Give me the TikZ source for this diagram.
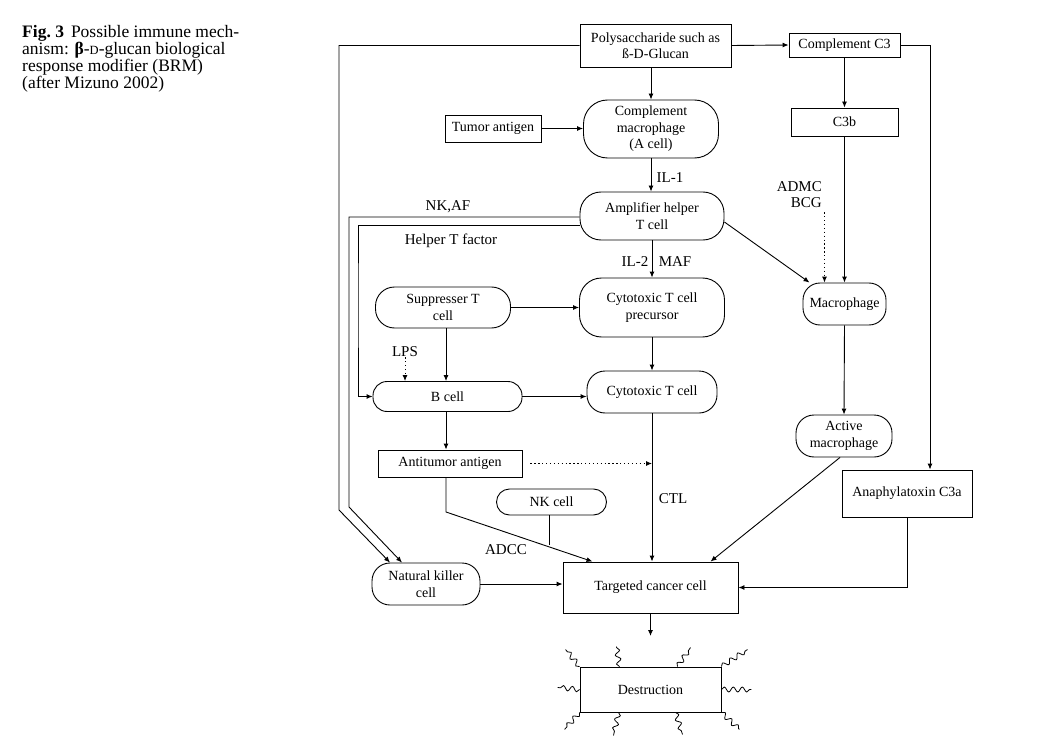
\documentclass[tikz,border=0pt]{standalone}
\usepackage{fontspec}
\setmainfont{Liberation Serif}
\usetikzlibrary{arrows.meta,decorations.pathmorphing}
\begin{document}
\begin{tikzpicture}[x=1pt,y=-1pt,
  font=\fontsize{14}{16.5}\selectfont,
  every node/.style={align=center, inner sep=0pt},
  box/.style={draw, line width=0.9pt, rectangle},
  cell/.style={draw, line width=0.9pt, rounded corners=#1},
  cell/.default=16pt,
  lab/.style={font=\fontsize{15}{17}\selectfont},
  conn/.style={line width=0.9pt, -{Latex[length=6pt,width=5pt]}},
  plainline/.style={line width=0.9pt},
  dots/.style={conn, dash pattern=on 1.3pt off 2.6pt},
  wig/.style={line width=0.8pt, decorate, decoration={snake, amplitude=2.5pt, segment length=9pt}},
]
\useasboundingbox (0,0) rectangle (1041,746);

% caption
\node[anchor=north west, align=left, font=\fontsize{17.5}{15.6}\selectfont] (cap) at (22,25)
  {{\bfseries Fig.~3}\hspace{0.4em}Possible immune mech-\\anism: {\bfseries β}-{\fontsize{12.5}{12}\selectfont D}-glucan biological\\response modifier (BRM)\\(after Mizuno 2002)};

% nodes
\node[box, minimum width=151pt, minimum height=43pt] (poly) at (655.5,45.5) {Polysaccharide such as\\ß-D-Glucan};
\node[box, minimum width=111pt, minimum height=24pt] (c3) at (844.5,45) {Complement C3};
\node[box, minimum width=96pt, minimum height=27pt] (tum) at (493,128.5) {Tumor antigen};
\node[cell=24pt, minimum width=135pt, minimum height=58pt] (cm) at (651,129) {Complement\\macrophage\\(A cell)};
\node[box, minimum width=107pt, minimum height=28pt] (c3b) at (844.5,122) {C3b};
\node[cell=21pt, minimum width=144pt, minimum height=48pt] (amp) at (652,216) {Amplifier helper\\T cell};
\node[cell=19pt, minimum width=135pt, minimum height=41pt] (sup) at (443,307.5) {Suppresser T\\cell};
\node[cell=22pt, minimum width=145pt, minimum height=59pt] (prec) at (652,307.5) {Cytotoxic T cell\\precursor};
\node[cell=17pt, minimum width=83pt, minimum height=42pt] (mac) at (844.5,304) {Macrophage};
\node[cell=14pt, minimum width=149pt, minimum height=30pt] (bc) at (447.5,396.5) {B cell};
\node[cell=18pt, minimum width=130pt, minimum height=42pt] (ct) at (652,392) {Cytotoxic T cell};
\node[box, minimum width=144pt, minimum height=27pt] (at) at (450,463.5) {Antitumor antigen};
\node[cell=13pt, minimum width=110pt, minimum height=26pt] (nk) at (551.5,502) {NK cell};
\node[cell=18pt, minimum width=96pt, minimum height=42pt] (act) at (844,436) {Active\\macrophage};
\node[box, minimum width=130pt, minimum height=47pt] (ana) at (907,493.5) {Anaphylatoxin C3a};
\node[cell=18pt, minimum width=108pt, minimum height=42pt] (nkc) at (426,584) {Natural killer\\cell};
\node[box, minimum width=175pt, minimum height=51pt] (tc) at (650.5,587.5) {Targeted cancer cell};
\node[box, minimum width=141pt, minimum height=45pt] (dest) at (650.5,689.5) {Destruction};

% labels
\node[lab] (il1) at (670,178) {IL-1};
\node[lab] (nkaf) at (448,207) {NK,AF};
\node[lab] (htf) at (451,241) {Helper T factor};
\node[lab] (il2) at (635,262) {IL-2};
\node[lab] (maf) at (675,262) {MAF};
\node[lab, anchor=east] (admc) at (822,187) {ADMC};
\node[lab, anchor=east] (bcg) at (822,203) {BCG};
\node[lab] (lps) at (405,352) {LPS};
\node[lab] (ctl) at (673,499) {CTL};
\node[lab] (adcc) at (506,550) {ADCC};

% helper coordinates
\coordinate (lb1) at (339,510);
\coordinate (lb2) at (349,507);
\coordinate (hx) at (358,300);
\coordinate (admcx) at ([xshift=-20pt]mac.north);
\coordinate (bcgb) at ([yshift=-4pt]bcg.south);
\coordinate (sbx) at (446,0);
\coordinate (ab) at (446,512);
\coordinate (nkm) at (549.5,544.5);
\coordinate (dtip) at (650.5,636);

% connectors
\draw[conn] (poly.east) -- (c3.west);
\draw[conn] (poly.west) -| (lb1) -- ([xshift=-36pt]nkc.north);
\draw[conn] ([yshift=-1pt]amp.west) -| (lb2) -- ([xshift=-24pt]nkc.north);
\draw[conn] ([yshift=-9pt]amp.west) -| (hx) |- (bc.west);
\draw[conn] (cm.north |- poly.south) -- (cm.north);
\draw[conn] (tum.east) -- (tum.east -| cm.west);
\draw[conn] (c3.south) -- (c3b.north);
\draw[conn] (cm.south) -- (cm.south |- amp.north);
\draw[conn] (amp.south) -- (prec.north);
\draw[conn] ([yshift=-6pt]amp.east) -- ([xshift=-35pt]mac.north);
\draw[dots] (admcx |- bcgb) -- (admcx);
\draw[conn] (c3b.south) -- (mac.north);
\draw[conn] (c3.east) -| ([xshift=23pt]ana.north);
\draw[conn] (sup.east) -- (prec.west);
\draw[dots] (lps.south) -- (lps.south |- bc.north);
\draw[conn] (sup.south -| sbx) -- (bc.north -| sbx);
\draw[conn] (prec.south) -- (ct.north);
\draw[conn] (bc.east) -- (bc.east -| ct.west);
\draw[conn] (bc.south -| sbx) -- (at.north -| sbx);
\draw[dots] ([xshift=8pt]at.east) -- (at.east -| ct.south);
\draw[conn] (ct.south) -- (ct.south |- tc.north);
\draw[conn] (at.south -| ab) -- (ab) -- ([xshift=-58pt]tc.north);
\draw[plainline] (nk.south -| nkm) -- (nkm);
\draw[conn] (mac.south) -- (act.north);
\draw[conn] ([xshift=-4pt]act.south) -- ([xshift=60pt]tc.north);
\draw[conn] (ana.south) |- (tc.east);
\draw[conn] (nkc.east) -- (nkc.east -| tc.west);
\draw[conn] (tc.south) -- (dtip);

% squiggles around destruction
\draw[wig] (dest.north west) -- ++(-14,-17);
\draw[wig] ([xshift=-31pt]dest.north) -- ++(-3,-20);
\draw[wig] ([xshift=27pt]dest.north) -- ++(13,-19);
\draw[wig] (dest.north east) -- ++(26,-17);
\draw[wig] (dest.west) -- ++(-22,-2);
\draw[wig] (dest.east) -- ++(30,0);
\draw[wig] (dest.south west) -- ++(-15,17);
\draw[wig] ([xshift=-32pt]dest.south) -- ++(-5,23);
\draw[wig] ([xshift=25pt]dest.south) -- ++(7,22);
\draw[wig] (dest.south east) -- ++(18,17);
\end{tikzpicture}
\end{document}
